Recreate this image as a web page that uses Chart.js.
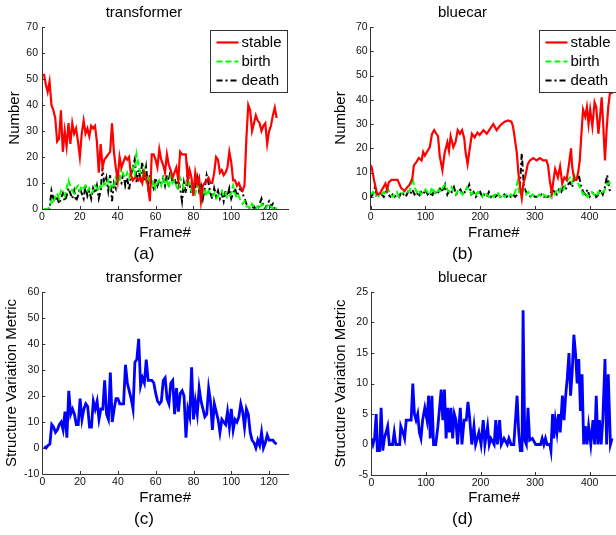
<!DOCTYPE html>
<html><head><meta charset="utf-8">
<script src="https://cdn.jsdelivr.net/npm/chart.js@4"></script>
<style>
html,body{margin:0;padding:0;background:#fff;overflow:hidden;width:616px;height:535px;position:relative;}
canvas{position:absolute;}
</style></head>
<body>
<canvas id="ca" width="308" height="270" style="left:0;top:0;width:308px;height:270px"></canvas>
<canvas id="cb" width="312" height="270" style="left:308px;top:0;width:312px;height:270px"></canvas>
<canvas id="cc" width="308" height="270" style="left:0;top:265px;width:308px;height:270px"></canvas>
<canvas id="cd" width="312" height="270" style="left:308px;top:265px;width:312px;height:270px"></canvas>
<script>
// ---------- data ----------
const trFrames = Array.from({length:124},(_,i)=>i+1);
const trStable = [52,48,45,49,40,38,35,26,27,38, 22,30,24,33,25,33,29,31,26,20, 29,34,29,31,28,32,31,32,26,14,
 25,16,19,20,21,22,33,22,16,11, 20,16,18,20,19,20,13,11,12,12, 11,12,10,14,12,9,3,21,21,19,
 16,23,19,17,14,21,17,15,12,14, 16,11,22,21,21,21,11,15,12,5, 14,10,12,3,9,10,11,12,10,10,
 14,20,19,14,15,13,14,16,22,18, 11,11,9,10,8,7,9,27,40,38, 30,33,36,34,33,30,32,33,25,30, 32,36,39,35];
const trBirth = [0,0,0,1,3,2,5,6,4,7, 6,5,8,11,9,7,6,8,9,7, 9,8,9,7,8,6,7,9,8,7, 9,8,10,9,11,8,10,9,12,10,
 11,16,13,12,14,12,14,16,13,21, 17,14,12,15,11,13,10,9,11,8, 10,11,9,12,10,11,8,13,10,11,
 9,7,12,10,8,9,12,9,7,8, 6,9,8,7,6,8,5,7,6,5, 6,4,5,6,7,5,6,4,5,6, 9,6,4,5,3,2,3,1,1,0,
 2,1,0,1,0,2,1,0,1,2, 1,0,1,0];
const trDeath = [0,0,0,0,7,4,3,5,2,4, 6,3,5,8,6,4,7,3,5,8, 6,4,9,5,7,4,8,6,9,4, 7,16,9,12,7,13,3,10,8,14,
 11,10,14,9,12,7,13,16,19,10, 15,12,18,11,16,9,13,10,8,12, 9,11,10,12,9,13,11,15,10,12,
 9,11,8,3,10,6,15,9,6,10, 8,12,7,9,4,8,13,10,6,4, 8,5,7,4,6,3,7,5,8,4, 6,8,5,7,8,6,4,2,1,0,
 0,1,0,0,2,4,1,0,2,3, 1,2,0,0];
const trSVM = [0.6,0,1,1.5,9,8,6,7,9,10, 7,14,4,22,13,15,13,9,9,19, 11,15,17,16,8,8,18,15,18,11,
 15,15,26,13,11,29,10,15,19,19, 17,17,17,32,25,22,19,15,33,34, 42,24,27,25,34,26,26,26,25,21,
 18,17,18,26,27,19,17,25,26,13, 23,14,21,22,20,4,15,12,31,11, 18,13,23,18,15,12,13,23,18,7,
 17,14,11,6,11,10,9,14,8,15, 7,11,10,12,17,14,8,15,13,6, 3,2,0,3,1,6,0,2,5,3, 3,3,2,1.5];

const bcStableFrames = [0,2,6,9,12,17,22,27,30,33, 38,44,49,53,56,62,67,71,76,79, 84,88,93,96,99,104,108,112,116,120,
 123,126,131,135,140,143,146,151,155,159, 163,167,171,173,177,181,185,190,195,199, 206,212,218,224,230,235,239,245,251,257,
 260,263,267,270,273,276,279,282,287,291, 297,303,309,315,321,324,327,331,334,337, 342,346,350,354,358,362,366,368,372,376,
 379,382,385,388,392,395,398,401,405,409, 412,416,419,422,425,428,431,434,437,442];
const bcStable = [13,12,7,4,1,1.5,3.5,5.5,3,6, 7,7,7,5,3.5,2.5,4,5,7.5,13, 14.5,16,15,18.5,17,19,20.5,26,27.5,26,
 25,17,11,18,22.5,19,25,20.5,22.5,27.5, 26,27.5,24,19,13.5,20,26,24.5,26.5,25.5, 27.5,26,28,30,27.5,29,30,31,31.5,31,
 29,24.5,18,9.5,4,-0.5,5.5,8,13.5,15, 16,15,16,15,15,13,7,1.5,7,11.5, 8,12.5,5.5,8,7,13,20,12.5,7,7,
 10,15,26,36,33,37,30,36,29,39, 37,26,33,41,29,15,27.5,37,42.5,43];
const bcEventFrames = Array.from({length:111},(_,i)=>i*4);
const bcBirth = [1,2,0,1,0,1,2,1,3,1, 0,1,2,0,1,2,3,2,3,8, 4,2,3,1,2,3,2,1,4,2, 1,3,2,4,5,3,2,4,2,1,
 3,2,1,2,4,3,1,2,1,2, 1,0,2,1,0,1,0,1,2,0, 1,0,1,0,1,0,2,6,1,2, 3,1,2,0,1,0,0,1,0,1,
 0,1,0,2,1,3,2,4,3,5, 7,8,6,9,7,5,3,1,2,0, 1,2,1,0,2,1,2,3,5,6, 4];
const bcDeath = [0,1,4,0,2,1,0,2,1,0, 1,0,1,0,2,1,0,2,1,3, 1,2,0,2,1,3,1,2,0,3, 1,2,4,2,5,1,3,2,4,1,
 2,3,1,2,3,5,1,2,0,1, 2,0,1,0,2,0,1,0,1,0, 0,1,0,1,0,1,0,1,2,18, 4,2,1,0,1,0,0,0,1,0,
 0,0,1,3,2,1,3,2,4,3, 5,6,4,8,7,9,5,2,1,3, 0,1,2,0,1,3,1,4,9,3, 2];
const bcSVMFrames = [0,3,6,9,11,15,18,21,24,27, 30,33,39,42,45,52,54,58,61,64, 68,73,76,79,82,85,88,91,94,98,
 102,105,108,111,114,118,122,125,128,131, 134,137,140,143,146,149,152,155,158,163, 166,170,174,177,180,184,188,191,197,201,
 205,208,213,216,219,225,228,231,235,238, 243,249,252,256,261,267,270,273,276,278, 281,284,287,290,295,301,310,313,316,319,
 322,327,329,332,334,337,340,343,346,350, 353,356,359,362,365,368,371,374,377,380, 383,386,389,392,395,398,402,406,409,412,
 415,418,421,424,428,431,434,438,441];
const bcSVM = [1,0,1,5,-1,-1,6,-1,1,2, 3,0,0,2,0,0,3,2,1,4, 4,4,10,5,4,5,2,1,4,6, 4,8,1,8,0,0,3,6,9,4,
 9,1,6,2,6,1,5,4,0,6, 0,4,4,7,4.5,0,3,0,2,0, 4,0,3,0,1,0,4,0,4,0, 1,0,1,0,0,8,2,-1,-1,22,
 0.7,0,6,0.7,1,0,0,1,0,1, 0,0,-1,5,1,4,2,5,2,8, 4,8,11,15,8,12,18,15,10,14, 5.5,11.5,0,3,0,3,0,4,0,8,
 0,4,0,4,14,0,11.5,0,1];

const trXTicks = [0,20,40,60,80,100,120];
const bcXTicks = [0,100,200,300,400];
const numYTicks = [0,10,20,30,40,50,60,70];
const trSvmYTicks = [-10,0,10,20,30,40,50,60];
const bcSvmYTicks = [-5,0,5,10,15,20,25];

// ---------- helpers ----------
Chart.defaults.font.family = "'Liberation Sans', Arial, sans-serif";
const pts = (f,v)=>f.map((x,i)=>({x:x,y:v[i]}));
const styles = {
  stable:{borderColor:'#ff0000',borderWidth:2.2,borderDash:[]},
  birth:{borderColor:'#00ff00',borderWidth:2,borderDash:[6,3]},
  death:{borderColor:'#000000',borderWidth:2,borderDash:[6,3,2,3]},
  svm:{borderColor:'#0000ff',borderWidth:2.8,borderDash:[]}
};
function ds(label, data, st){
  return Object.assign({label:label,data:data,pointRadius:0,tension:0,fill:false}, styles[st]);
}

const tickPlugin = {
  id:'inTicks',
  afterDraw(chart){
    const ctx = chart.ctx, ca = chart.chartArea;
    ctx.save(); ctx.strokeStyle='#333'; ctx.lineWidth=1; ctx.setLineDash([]);
    const sx = chart.scales.x, sy = chart.scales.y;
    sx.ticks.forEach(t=>{const p=Math.round(sx.getPixelForValue(t.value))+0.5;
      ctx.beginPath(); ctx.moveTo(p,ca.bottom); ctx.lineTo(p,ca.bottom-3); ctx.stroke();});
    sy.ticks.forEach(t=>{const p=Math.round(sy.getPixelForValue(t.value))+0.5;
      ctx.beginPath(); ctx.moveTo(ca.left,p); ctx.lineTo(ca.left+3,p); ctx.stroke();});
    ctx.restore();
  }
};
const legendPlugin = {
  id:'inLegend',
  afterDatasetsDraw(chart, args, opts){
    if(!opts.show) return;
    const ctx = chart.ctx, ca = chart.chartArea;
    const w=77, h=62, L=Math.round(ca.right-w-1)+0.5, T=Math.round(ca.top+3)+0.5;
    ctx.save();
    ctx.fillStyle='#fff'; ctx.fillRect(L,T,w,h);
    ctx.strokeStyle='#333'; ctx.lineWidth=1; ctx.setLineDash([]); ctx.strokeRect(L,T,w,h);
    ctx.font="15px 'Liberation Sans', Arial, sans-serif"; ctx.textBaseline='middle'; ctx.fillStyle='#000';
    const rows=[12,31,50];
    chart.data.datasets.forEach((d,i)=>{
      const y=T+rows[i];
      ctx.strokeStyle=d.borderColor; ctx.lineWidth=d.borderWidth; ctx.setLineDash(d.borderDash||[]);
      ctx.beginPath(); ctx.moveTo(L+6,y); ctx.lineTo(L+28,y); ctx.stroke();
      ctx.fillText(d.label, L+31, y+0.5);
    });
    ctx.restore();
  }
};

function makeChart(id, p){
  const axisTitleFont = {size:15,lineHeight:1.2};
  new Chart(document.getElementById(id), {
    type:'line',
    data:{datasets:p.datasets},
    plugins:[tickPlugin, legendPlugin],
    options:{
      responsive:false, animation:false, events:[],
      layout:{padding:{left:0,right:p.padR,top:0,bottom:0}},
      plugins:{
        legend:{display:false}, tooltip:{enabled:false},
        title:{display:true,text:p.title,color:'#000',font:{size:15,weight:'normal',lineHeight:1.2},padding:{top:4,bottom:5}},
        subtitle:{display:true,position:'bottom',text:p.sub,color:'#000',font:{size:17,weight:'normal',lineHeight:1.2},padding:{top:2,bottom:5}},
        inLegend:{show:p.legend}
      },
      scales:{
        x:{type:'linear',min:0,max:p.xmax,
          afterBuildTicks:s=>{s.ticks=p.xticks.map(v=>({value:v}));},
          afterFit:s=>{s.height=p.xH;},
          grid:{display:false,drawTicks:false},
          border:{display:true,color:'#333',width:1},
          ticks:{padding:2,color:'#111',font:{size:10.5},maxRotation:0,autoSkip:false},
          title:{display:true,text:'Frame#',color:'#000',font:axisTitleFont,padding:{top:0,bottom:1}}
        },
        y:{type:'linear',min:p.ymin,max:p.ymax,
          afterBuildTicks:s=>{s.ticks=p.yticks.map(v=>({value:v}));},
          afterFit:s=>{s.width=p.yW;},
          grid:{display:false,drawTicks:false},
          border:{display:true,color:'#333',width:1},
          ticks:{padding:p.yPad,color:'#111',font:{size:10.5},autoSkip:false},
          title:{display:true,text:p.yTitle,color:'#000',font:axisTitleFont,padding:{top:p.yTitlePad,bottom:0}}
        }
      }
    }
  });
}

makeChart('ca',{title:'transformer',sub:'(a)',legend:true,padR:20,xmax:130,xticks:trXTicks,
  ymin:0,ymax:70,yticks:numYTicks,yW:42,yPad:4,yTitle:'Number',yTitlePad:6,xH:33.6,
  datasets:[ds('stable',pts(trFrames,trStable),'stable'),ds('birth',pts(trFrames,trBirth),'birth'),ds('death',pts(trFrames,trDeath),'death')]});
makeChart('cb',{title:'bluecar',sub:'(b)',legend:true,padR:3,xmax:450,xticks:bcXTicks,
  ymin:-5,ymax:70,yticks:numYTicks,yW:62.7,yPad:3,yTitle:'Number',yTitlePad:24,xH:33.6,
  datasets:[ds('stable',pts(bcStableFrames,bcStable),'stable'),ds('birth',pts(bcEventFrames,bcBirth),'birth'),ds('death',pts(bcEventFrames,bcDeath),'death')]});
makeChart('cc',{title:'transformer',sub:'(c)',legend:false,padR:20,xmax:130,xticks:trXTicks,
  ymin:-10,ymax:60,yticks:trSvmYTicks,yW:42.3,yPad:3,yTitle:'Structure Variation Metric',yTitlePad:2.7,xH:33.6,
  datasets:[ds('svm',pts(trFrames,trSVM),'svm')]});
makeChart('cd',{title:'bluecar',sub:'(d)',legend:false,padR:3,xmax:450,xticks:bcXTicks,
  ymin:-5,ymax:25,yticks:bcSvmYTicks,yW:63.3,yPad:3.3,yTitle:'Structure Variation Metric',yTitlePad:24.3,xH:32.6,
  datasets:[ds('svm',pts(bcSVMFrames,bcSVM),'svm')]});
</script>
</body></html>
